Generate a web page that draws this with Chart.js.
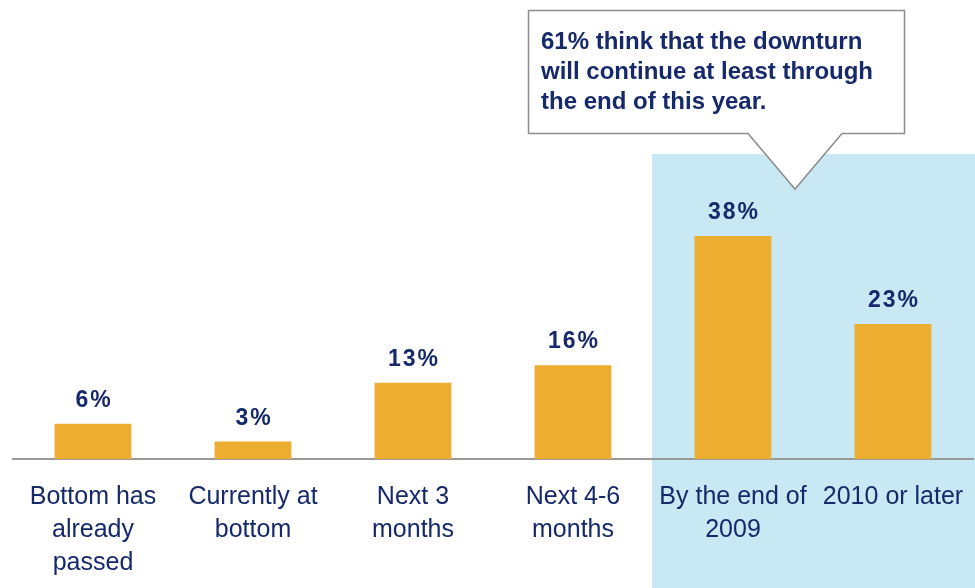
<!DOCTYPE html>
<html lang="en">
<head>
<meta charset="utf-8">
<style>
    html, body { margin: 0; padding: 0; background: #ffffff; overflow: hidden; }
    canvas { display: block; }
</style>
</head>
<body>
<canvas id="downturnChart" width="975" height="588"></canvas>

<script src="https://cdn.jsdelivr.net/npm/chart.js"></script>
<script>
    // Cuándo termina la recesión (% de respuestas)
    const categories = [
        ['Bottom has', 'already', 'passed'],
        ['Currently at', 'bottom'],
        ['Next 3', 'months'],
        ['Next 4-6', 'months'],
        ['By the end of', '2009'],
        ['2010 or later']
    ];
    const shares = [6, 3, 13, 16, 38, 23];
    const calloutLines = [
        '61% think that the downturn',
        'will continue at least through',
        'the end of this year.'
    ];

    const NAVY = '#15296b';
    const GOLD = '#ecae30';

    // Fondo azul detrás de las dos últimas columnas
    const bandPlugin = {
        id: 'band',
        beforeDraw(chart) {
            const ctx = chart.ctx;
            const x = chart.scales.x;
            const left = (x.getPixelForValue(3) + x.getPixelForValue(4)) / 2 - 1;
            ctx.save();
            ctx.fillStyle = '#c8e8f4';
            ctx.fillRect(left, 154, chart.width - left, chart.height - 154);
            ctx.restore();
        }
    };

    // Porcentaje encima de cada barra
    const valueLabels = {
        id: 'valueLabels',
        afterDatasetsDraw(chart) {
            const ctx = chart.ctx;
            const meta = chart.getDatasetMeta(0);
            ctx.save();
            ctx.fillStyle = NAVY;
            ctx.font = 'bold 23px "Liberation Sans", Arial, sans-serif';
            ctx.letterSpacing = '2px';
            ctx.textAlign = 'center';
            ctx.textBaseline = 'middle';
            meta.data.forEach((bar, i) => {
                ctx.fillText(shares[i] + '%', bar.x + 1, bar.y - 23);
            });
            ctx.restore();
        }
    };

    // Globo de texto con la conclusión
    const calloutPlugin = {
        id: 'callout',
        afterDraw(chart) {
            const ctx = chart.ctx;
            ctx.save();
            ctx.beginPath();
            ctx.moveTo(528.5, 10.5);
            ctx.lineTo(904.5, 10.5);
            ctx.lineTo(904.5, 133.5);
            ctx.lineTo(842, 133.5);
            ctx.lineTo(795, 189);
            ctx.lineTo(748, 133.5);
            ctx.lineTo(528.5, 133.5);
            ctx.closePath();
            ctx.fillStyle = '#ffffff';
            ctx.fill();
            ctx.strokeStyle = '#8c8c8c';
            ctx.lineWidth = 1.5;
            ctx.stroke();

            ctx.fillStyle = NAVY;
            ctx.font = 'bold 24px "Liberation Sans", Arial, sans-serif';
            ctx.textAlign = 'left';
            ctx.textBaseline = 'alphabetic';
            calloutLines.forEach((line, i) => {
                ctx.fillText(line, 541, 49 + i * 30);
            });
            ctx.restore();
        }
    };

    new Chart(document.getElementById('downturnChart'), {
        type: 'bar',
        data: {
            labels: categories,
            datasets: [{
                data: shares,
                backgroundColor: GOLD,
                borderWidth: 0,
                barPercentage: 0.48,
                categoryPercentage: 1
            }]
        },
        options: {
            responsive: false,
            animation: false,
            layout: { padding: { top: 107, left: 13, right: 2, bottom: 0 } },
            plugins: {
                legend: { display: false },
                tooltip: { enabled: false }
            },
            scales: {
                x: {
                    grid: { display: false, drawTicks: false },
                    border: { display: true, color: '#9a9a9a', width: 2 },
                    ticks: {
                        color: NAVY,
                        padding: 22,
                        maxRotation: 0,
                        autoSkip: false,
                        font: { family: '"Liberation Sans", Arial, sans-serif', size: 25, lineHeight: 1.32 }
                    },
                    afterFit(scale) {
                        // fixed axis band under the baseline, no extra side padding
                        scale.height = 129;
                        scale.paddingLeft = 0;
                        scale.paddingRight = 0;
                    }
                },
                y: {
                    display: false,
                    min: 0,
                    max: 60
                }
            }
        },
        plugins: [bandPlugin, valueLabels, calloutPlugin]
    });
</script>
</body>
</html>
